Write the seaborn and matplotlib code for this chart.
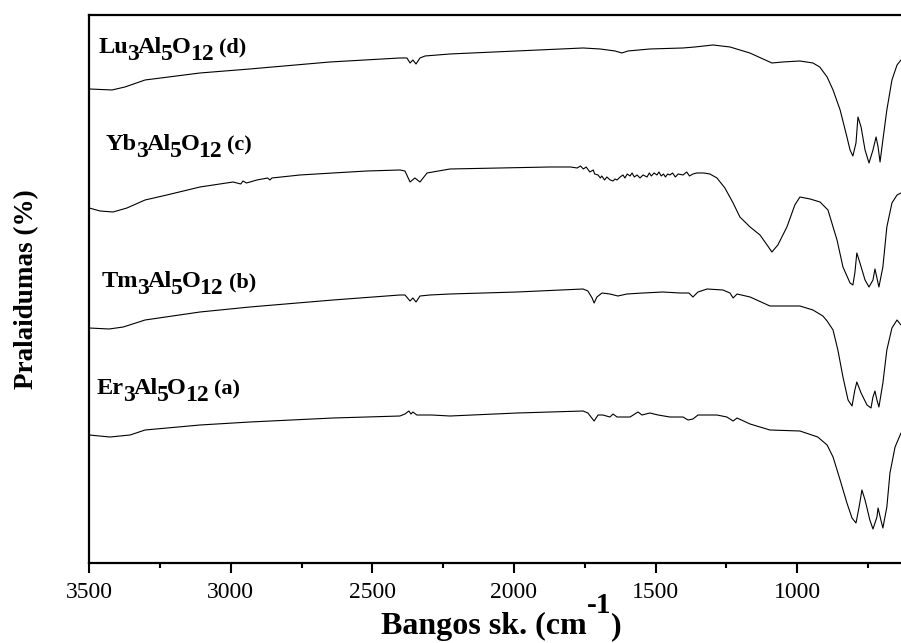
import pandas as pd
import matplotlib
matplotlib.use('Agg')
import matplotlib.pyplot as plt
import seaborn as sns

# FTIR spectra (wavenumber, cm-1 / transmittance, arb. units)
lu_wn = [3500, 3420, 3374, 3303, 3109, 2933, 2650, 2403, 2378, 2367, 2357, 2346, 2332, 2314, 2226,
         1756, 1696, 1643, 1619, 1597, 1520, 1403, 1361, 1297, 1237, 1167, 1089, 1050, 990, 944, 920,
         894, 873, 848, 824, 813, 803, 792, 785, 774, 760, 746, 732, 721, 714, 707, 697, 683, 665, 647, 633]
lu_t = [474, 473, 476, 483, 490, 494, 501, 505, 505, 500, 503, 499, 505, 507, 509,
        515, 514, 512, 510, 512, 514, 515, 516, 518, 516, 510, 500, 501, 502, 500, 496,
        486, 473, 453, 426, 413, 407, 420, 446, 436, 413, 400, 413, 426, 416, 401, 423, 453, 483, 498, 503]

yb_wn = [3500, 3462, 3416, 3367, 3303, 3226, 3109, 2992, 2965, 2957,
         2945, 2932, 2908, 2870, 2862, 2855, 2756, 2639, 2519, 2403,
         2385, 2367, 2350, 2332, 2307, 2226, 2049, 1873, 1800, 1777,
         1765, 1755, 1745, 1732, 1720, 1715, 1703, 1695, 1690, 1680,
         1672, 1660, 1650, 1643, 1636, 1625, 1615, 1608, 1600, 1590,
         1583, 1575, 1565, 1555, 1544, 1530, 1522, 1515, 1505, 1495,
         1488, 1480, 1472, 1465, 1457, 1449, 1440, 1430, 1420, 1403,
         1390, 1380, 1368, 1354, 1330, 1308, 1283, 1255, 1226, 1202,
         1166, 1131, 1106, 1089, 1068, 1036, 1008, 990, 954, 919,
         891, 859, 838, 813, 803, 796, 789, 778, 760, 746,
         732, 725, 718, 711, 697, 683, 665, 647, 633]
yb_t = [355, 352, 351, 355, 363, 368, 376, 381, 379, 382,
        380, 381, 383, 385, 383, 385, 388, 390, 392, 393,
        392, 381, 385, 381, 390, 394, 395, 396, 396, 395,
        397, 394, 396, 391, 393, 389, 388, 385, 387, 383,
        386, 383, 382, 384, 383, 386, 388, 385, 389, 387,
        390, 386, 388, 385, 388, 386, 390, 387, 390, 388,
        391, 387, 389, 386, 389, 388, 390, 386, 389, 388,
        391, 387, 389, 390, 390, 389, 385, 375, 360, 346,
        336, 328, 318, 311, 318, 336, 358, 366, 364, 361,
        353, 323, 296, 280, 278, 290, 310, 300, 283, 276,
        283, 294, 285, 276, 296, 336, 360, 368, 370]

tm_wn = [3500, 3430, 3380, 3303, 3109, 2933, 2639, 2403, 2385, 2367,
         2357, 2346, 2332, 2297, 2226, 1989, 1756, 1739, 1724, 1717,
         1707, 1689, 1661, 1633, 1601, 1544, 1474, 1414, 1382, 1368,
         1350, 1318, 1262, 1237, 1226, 1212, 1166, 1096, 990, 944,
         909, 894, 873, 856, 838, 820, 806, 796, 789, 774,
         753, 739, 732, 725, 718, 711, 697, 683, 665, 647, 633]
tm_t = [235, 234, 236, 243, 251, 256, 263, 268, 268, 262,
        265, 261, 267, 268, 269, 271, 274, 272, 265, 260,
        266, 270, 269, 267, 269, 270, 271, 270, 270, 266,
        271, 274, 273, 270, 265, 269, 266, 257, 257, 253,
        247, 242, 233, 213, 186, 163, 157, 173, 181, 170,
        158, 155, 166, 172, 163, 156, 180, 213, 235, 243, 238]

er_wn = [3500, 3427, 3356, 3303, 3109, 2933, 2639, 2403, 2385, 2371,
         2364, 2357, 2343, 2290, 2226, 1989, 1756, 1739, 1717, 1703,
         1686, 1661, 1650, 1636, 1590, 1562, 1548, 1520, 1491, 1449,
         1403, 1385, 1368, 1350, 1283, 1248, 1226, 1212, 1166, 1096,
         990, 927, 894, 873, 848, 824, 806, 792, 781, 771,
         760, 743, 732, 718, 714, 704, 697, 683, 672, 654, 633]
er_t = [128, 126, 128, 133, 138, 141, 145, 147, 149, 152,
        149, 151, 148, 148, 147, 150, 152, 150, 142, 148,
        148, 146, 149, 146, 146, 151, 148, 150, 148, 146,
        146, 143, 144, 148, 148, 146, 142, 145, 139, 133,
        132, 126, 118, 106, 83, 60, 45, 40, 56, 73,
        63, 43, 34, 46, 55, 43, 35, 56, 90, 116, 130]

samples = ['Lu', 'Yb', 'Tm', 'Er']
letters = ['(d)', '(c)', '(b)', '(a)']
# label anchor (wavenumber, baseline level)
label_x = [3466, 3441, 3455, 3473]
label_y = [510, 413, 276, 169]

frames = []
for name, wn, t in zip(samples, [lu_wn, yb_wn, tm_wn, er_wn], [lu_t, yb_t, tm_t, er_t]):
    frames.append(pd.DataFrame({'wn': wn, 'T': t, 'sample': name}))
df = pd.concat(frames, ignore_index=True)

sns.set_style('ticks')
plt.rcParams['font.family'] = ['Liberation Serif', 'DejaVu Serif']
for k in ['text.color', 'axes.labelcolor', 'xtick.color', 'ytick.color', 'axes.edgecolor']:
    plt.rcParams[k] = 'black'

fig = plt.figure(figsize=(9.01, 6.43), dpi=100)
ax = fig.add_axes([0.0991, 0.1244, 0.9009, 0.8523])

sns.lineplot(data=df, x='wn', y='T', units='sample', estimator=None,
             color='black', linewidth=0.8, ax=ax)

ax.set_xlim(3500, 633)
ax.set_ylim(0, 548)
ax.set_xticks([3500, 3000, 2500, 2000, 1500, 1000])
ax.set_xticks([3250, 2750, 2250, 1750, 1250, 750], minor=True)
ax.set_yticks([])
ax.set_xlabel('')
ax.tick_params(axis='x', which='major', direction='out', length=7, width=1.5,
               labelsize=17, pad=7)
ax.tick_params(axis='x', which='minor', direction='out', length=3.5, width=1.5)
for s in ['left', 'bottom', 'top']:
    ax.spines[s].set_linewidth(1.6)
ax.spines['right'].set_visible(False)
ax.set_ylabel('Pralaidumas (%)', fontsize=19.5, fontweight='bold', labelpad=36)

# x label built from pieces so the superscript stays large
xl = fig.text(381 / 901, 9 / 643, 'Bangos sk. (cm', fontsize=23, fontweight='bold',
              ha='left', va='baseline')
xs = ax.annotate('-1', xy=(1, 9), xycoords=(xl, 'figure pixels'), xytext=(0, 15),
                 textcoords='offset points', fontsize=21, fontweight='bold',
                 va='baseline', annotation_clip=False)
ax.annotate(')', xy=(1, 9), xycoords=(xs, 'figure pixels'), xytext=(0, 0),
            textcoords='offset points', fontsize=23, fontweight='bold',
            va='baseline', annotation_clip=False)


def draw_label(x, y, metal, letter):
    pieces = [(metal, 17.5, 0), ('3', 17, -5), ('Al', 17.5, 0), ('5', 17, -5),
              ('O', 17.5, 0), ('12', 17, -5)]
    prev = ax.text(x, y, pieces[0][0], fontsize=pieces[0][1], fontweight='bold',
                   va='baseline', ha='left')
    for txt, size, dy in pieces[1:]:
        prev = ax.annotate(txt, xy=(1, y), xycoords=(prev, 'data'), xytext=(-0.8, dy),
                           textcoords='offset points', fontsize=size, fontweight='bold',
                           va='baseline')
    ax.annotate(letter, xy=(1, y), xycoords=(prev, 'data'), xytext=(4, 0),
                textcoords='offset points', fontsize=16, fontweight='bold', va='baseline')


for m, l, x, y in zip(samples, letters, label_x, label_y):
    draw_label(x, y, m, l)

fig.savefig('out.png', dpi=100)
